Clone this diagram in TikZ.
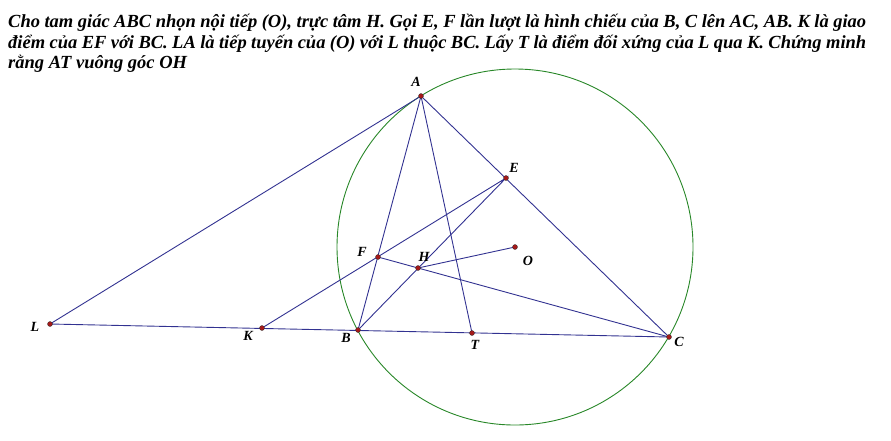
\documentclass[tikz,border=0pt]{standalone}
\usepackage{fontspec}
\setmainfont{Liberation Serif}
\definecolor{segcol}{RGB}{50,50,145}
\definecolor{circcol}{RGB}{40,135,40}
\definecolor{ptcol}{RGB}{165,25,25}
\tikzset{
	dot/.style = {circle, fill = ptcol, draw = black!80, line width = 0.3pt, inner sep = 0pt, minimum size = 5pt},
	lbl/.style = {inner sep = 0pt, font = \bfseries\itshape\fontsize{14}{14}\selectfont},
	seg/.style = {segcol, line width = 0.9pt}
}
\begin{document}
\begin{tikzpicture}[x = 1pt, y = -1pt]
		\useasboundingbox (0,0) rectangle (891,440);
		\node [anchor = north west, inner sep = 0pt, text width = 858pt, align = justify, font = \bfseries\itshape\fontsize{18.5}{20.5}\selectfont](problem) at (8,14) {Cho tam giác ABC nhọn nội tiếp (O), trực tâm H. Gọi E, F lần lượt là hình chiếu của B, C lên AC, AB. K là giao\linebreak điểm của EF với BC. LA là tiếp tuyến của (O) với L thuộc BC. Lấy T là điểm đối xứng của L qua K. Chứng minh\linebreak rằng AT vuông góc OH};
		\coordinate (A) at (421,96);
		\coordinate (B) at (358,330);
		\coordinate (C) at (669,337);
		\coordinate (O) at (515,247);
		\coordinate (H) at (418,268);
		\coordinate (E) at (506,178);
		\coordinate (F) at (378,257);
		\coordinate (L) at (50,324);
		\coordinate (K) at (262,328);
		\coordinate (T) at (472,333);
		\draw [circcol, line width = 0.9pt] (O) circle [radius = 178pt];
		\draw [seg] (L) -- (A) -- (C) -- cycle;
		\draw [seg] (B) -- (A) -- (T);
		\draw [seg] (K) -- (E) -- (B);
		\draw [seg] (F) -- (C);
		\draw [seg] (H) -- (O);
		\foreach \p in {A,B,C,O,H,E,F,L,K,T}
			\node [dot](d\p) at (\p) {};
		\node [lbl](lA) at (416,82) {A};
		\node [lbl](lE) at (514,168) {E};
		\node [lbl](lF) at (362,252) {F};
		\node [lbl](lH) at (424,257) {H};
		\node [lbl](lO) at (528,261) {O};
		\node [lbl](lL) at (35,327) {L};
		\node [lbl](lK) at (248,336) {K};
		\node [lbl](lB) at (346,338) {B};
		\node [lbl](lT) at (475,345) {T};
		\node [lbl](lC) at (679,342) {C};
\end{tikzpicture}
\end{document}
